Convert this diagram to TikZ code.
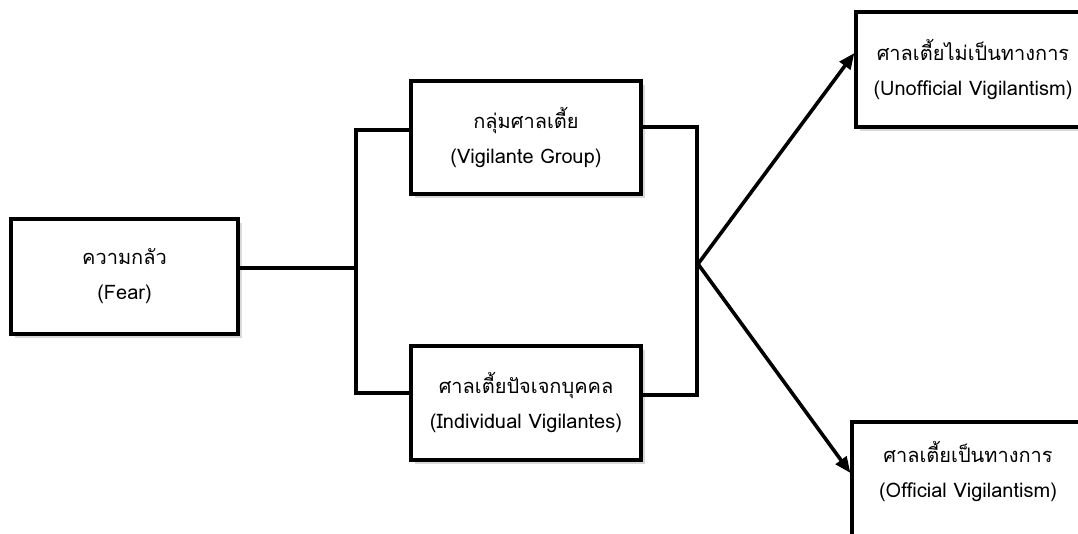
\documentclass[tikz,border=0pt]{standalone}
\usepackage{fontspec}
\newfontfamily\thaifont[Script=Thai]{Loma}
\usetikzlibrary{arrows.meta,shadows}
\begin{document}
\begin{tikzpicture}[x=1pt,y=-1pt,
  boxtext/.style={align=center, font=\thaifont\fontsize{20}{35}\selectfont},
  box/.style={draw=black, line width=3.2pt, fill=white, rectangle, boxtext,
    drop shadow={opacity=0.3, shadow xshift=4pt, shadow yshift=-4pt}},
  conn/.style={line width=3.6pt},
  arr/.style={line width=3.6pt, -{Triangle[length=16pt,width=13pt]}}]
\useasboundingbox (0,0) rectangle (1078,534);
\node[box, minimum width=227pt, minimum height=115pt] (fear) at (124.5,276.5) {ความกลัว\\(Fear)};
\node[box, minimum width=230pt, minimum height=113pt] (group) at (526,137.5) {กลุ่มศาลเตี้ย\\(Vigilante Group)};
\node[box, minimum width=230pt, minimum height=114pt] (indiv) at (526,403) {ศาลเตี้ยปัจเจกบุคคล\\(Individual Vigilantes)};
\node[box, minimum width=234pt, minimum height=115pt] (unoff) at (973,69.5) {ศาลเตี้ยไม่เป็นทางการ\\(Unofficial Vigilantism)};
\node[box, minimum width=232pt, minimum height=130pt] (off) at (968,487) {};
\node[boxtext] (offtext) at (968,472) {ศาลเตี้ยเป็นทางการ\\(Official Vigilantism)};
\coordinate (j1) at (356,268);
\coordinate (lt) at (356,130);
\coordinate (lb) at (356,393);
\coordinate (rt) at (697,127);
\coordinate (rb) at (697,395);
\coordinate (split) at (698,264);
\coordinate (ua) at (856,53);
\coordinate (oa) at (851,473);
\draw[conn] (fear.east |- j1) -- (j1);
\draw[conn] (group.west |- lt) -- (lt) -- (lb) -- (indiv.west |- lb);
\draw[conn] (group.east |- rt) -- (rt) -- (rb) -- (indiv.east |- rb);
\draw[arr] (split) -- (unoff.west |- ua);
\draw[arr] (split) -- (off.west |- oa);
\end{tikzpicture}
\end{document}
